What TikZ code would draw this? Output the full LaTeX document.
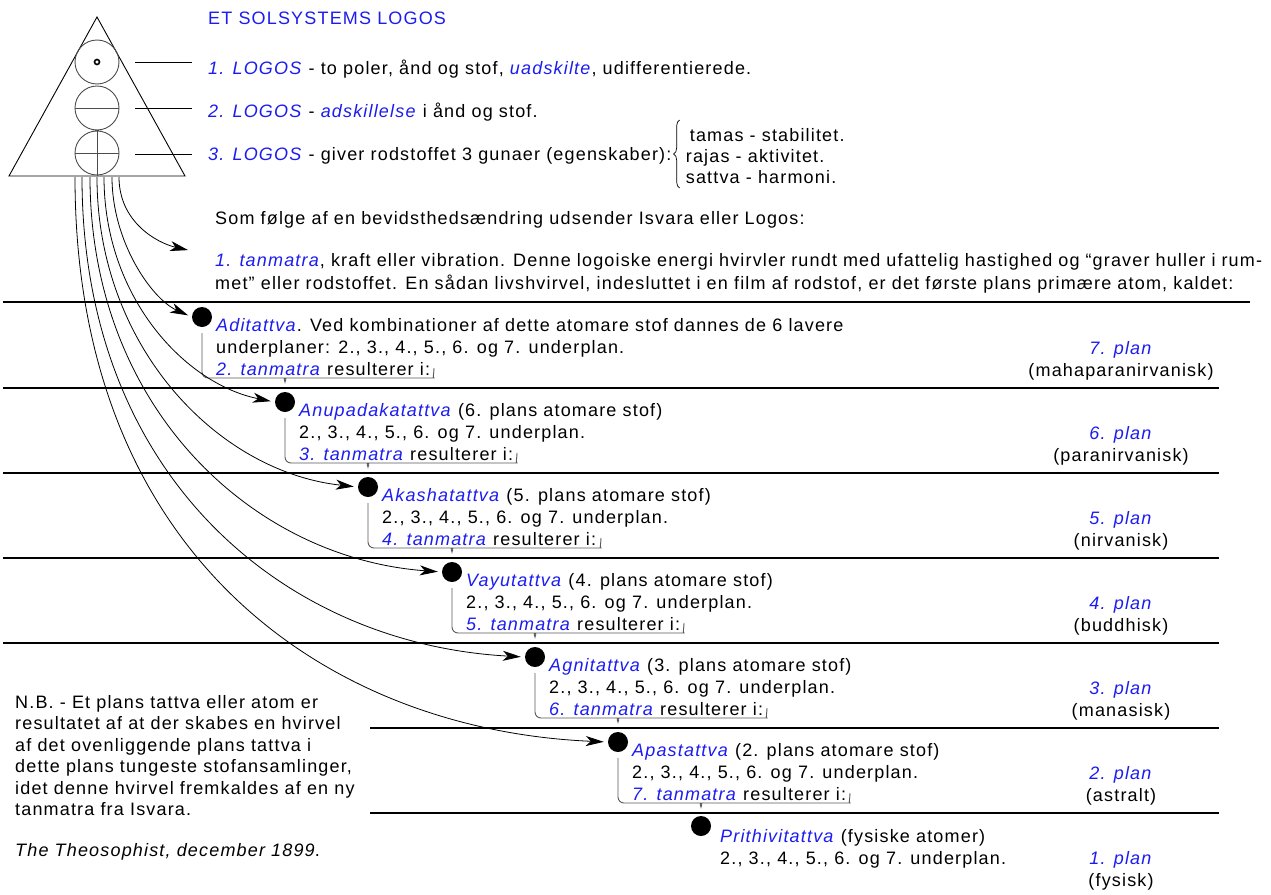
\documentclass[tikz,border=0pt]{standalone}
\usepackage{fontspec}
\setmainfont{Liberation Sans}[LetterSpace=6.5]
\usepackage{xcolor}
\usepackage{tikz}
\usetikzlibrary{arrows.meta,decorations.pathreplacing}

\definecolor{logosblue}{RGB}{28,28,240}
\newcommand{\bl}[1]{\textcolor{logosblue}{\textit{#1}}}

\begin{document}
\begin{tikzpicture}[
  x=1pt, y=-1pt,
  txt/.style={anchor=base west, inner sep=0pt, align=left, font=\fontsize{18}{22}\selectfont},
  plan/.style={anchor=base, inner sep=0pt, font=\fontsize{18}{22}\selectfont},
  atom/.style={circle, fill=black, minimum size=20pt, inner sep=0pt},
  plane/.style={line width=2.4pt},
  ray/.style={-{Stealth[length=18pt,width=10pt,inset=5pt]}, line width=0.8pt, shorten >=4pt},
  brk/.style={gray!70!black, line width=0.9pt, rounded corners=6pt},
  lead/.style={line width=0.9pt},
  gbrace/.style={decorate, decoration={brace, amplitude=6pt}, line width=0.7pt}
]
\useasboundingbox (0,0) rectangle (1271,894);

% triangle with the three logoi
\draw[line width=0.9pt] (97,17) -- (9,176) -- (185,176) -- cycle;
\draw[gray!60!black, line width=0.9pt] (97,62) circle[radius=22pt] (97,108) circle[radius=22pt] (97,153) circle[radius=22pt];
\draw[line width=1.6pt] (97,62) circle[radius=2.5pt];
\draw[gray!60!black, line width=0.9pt] (75,108) -- (119,108);
\draw[gray!60!black, line width=0.9pt] (75,153) -- (119,153) (97,131) -- (97,176);
\draw[lead] (135,62) -- (192,62);
\draw[lead] (135,108) -- (192,108);
\draw[lead] (135,154) -- (192,154);

\node[txt, text=logosblue] (title) at (208,24) {ET SOLSYSTEMS LOGOS};
\node[txt] (logos1) at (208,74) {\bl{1. LOGOS} - to poler, ånd og stof, \bl{uadskilte}, udifferentierede.};
\node[txt] (logos2) at (208,117) {\bl{2. LOGOS} - \bl{adskillelse} i ånd og stof.};
\node[txt] (logos3) at (208,160) {\bl{3. LOGOS} - giver rodstoffet 3 gunaer (egenskaber):};
\draw[gbrace] ([xshift=8pt,yshift=-28pt]logos3.base east) -- ([xshift=8pt,yshift=40pt]logos3.base east);
\node[txt, font=\fontsize{18}{21}\selectfont] (gunas) at ([xshift=14pt,yshift=-23pt]logos3.base east) {\hspace{4pt}tamas - stabilitet.\\rajas - aktivitet.\\sattva - harmoni.};

\node[txt] (intro) at (215,224) {Som følge af en bevidsthedsændring udsender Isvara eller Logos:};
\node[txt] (tm1) at (215,266) {\makebox[1047pt][s]{\bl{1. tanmatra}, kraft eller vibration. Denne logoiske energi hvirvler rundt med ufattelig hastighed og “graver huller i rum-}};
\node[txt] (tm2) at (215,289) {met” eller rodstoffet. En sådan livshvirvel, indesluttet i en film af rodstof, er det første plans primære atom, kaldet:};

% planes
\draw[plane] (3,302) -- (1250,302);
\draw[plane] (3,388) -- (1219,388);
\draw[plane] (3,473) -- (1219,473);
\draw[plane] (3,558) -- (1219,558);
\draw[plane] (3,643) -- (1219,643);
\draw[plane] (370,728) -- (1219,728);
\draw[plane] (370,813) -- (1219,813);

% atoms
\node[atom] (d1) at (202,317) {};
\node[atom] (d2) at (285,402) {};
\node[atom] (d3) at (368,487) {};
\node[atom] (d4) at (452,572) {};
\node[atom] (d5) at (535,657) {};
\node[atom] (d6) at (618,742) {};
\node[atom] (d7) at (701,826) {};

\node[txt] (a1) at (216,375) {\bl{Aditattva}. Ved kombinationer af dette atomare stof dannes de 6 lavere\\underplaner: 2., 3., 4., 5., 6. og 7. underplan.\\\bl{2. tanmatra} resulterer i:};
\node[txt] (a2) at (299,460) {\bl{Anupadakatattva} (6. plans atomare stof)\\2., 3., 4., 5., 6. og 7. underplan.\\\bl{3. tanmatra} resulterer i:};
\node[txt] (a3) at (382,545) {\bl{Akashatattva} (5. plans atomare stof)\\2., 3., 4., 5., 6. og 7. underplan.\\\bl{4. tanmatra} resulterer i:};
\node[txt] (a4) at (466,630) {\bl{Vayutattva} (4. plans atomare stof)\\2., 3., 4., 5., 6. og 7. underplan.\\\bl{5. tanmatra} resulterer i:};
\node[txt] (a5) at (549,715) {\bl{Agnitattva} (3. plans atomare stof)\\2., 3., 4., 5., 6. og 7. underplan.\\\bl{6. tanmatra} resulterer i:};
\node[txt] (a6) at (632,800) {\bl{Apastattva} (2. plans atomare stof)\\2., 3., 4., 5., 6. og 7. underplan.\\\bl{7. tanmatra} resulterer i:};
\node[txt] (a7) at (720,864) {\bl{Prithivitattva} (fysiske atomer)\\2., 3., 4., 5., 6. og 7. underplan.};

% brackets from one atom to the next
\draw[brk] ([yshift=-16pt]d1.center) -- ++(0,45) -- ++(77,0) to[out=0,in=90] ++(6,9) to[out=90,in=180] ++(6,-9) -- ++(137,0) to[out=0,in=-90] ++(6,-10);
\draw[brk] ([yshift=-16pt]d2.center) -- ++(0,45) -- ++(77,0) to[out=0,in=90] ++(6,9) to[out=90,in=180] ++(6,-9) -- ++(137,0) to[out=0,in=-90] ++(6,-10);
\draw[brk] ([yshift=-16pt]d3.center) -- ++(0,45) -- ++(78,0) to[out=0,in=90] ++(6,9) to[out=90,in=180] ++(6,-9) -- ++(137,0) to[out=0,in=-90] ++(6,-10);
\draw[brk] ([yshift=-16pt]d4.center) -- ++(0,45) -- ++(77,0) to[out=0,in=90] ++(6,9) to[out=90,in=180] ++(6,-9) -- ++(137,0) to[out=0,in=-90] ++(6,-10);
\draw[brk] ([yshift=-16pt]d5.center) -- ++(0,45) -- ++(77,0) to[out=0,in=90] ++(6,9) to[out=90,in=180] ++(6,-9) -- ++(137,0) to[out=0,in=-90] ++(6,-10);
\draw[brk] ([yshift=-16pt]d6.center) -- ++(0,45) -- ++(77,0) to[out=0,in=90] ++(6,9) to[out=90,in=180] ++(6,-9) -- ++(137,0) to[out=0,in=-90] ++(6,-10);

% tanmatras out of the logos
\coordinate (s0) at (119,177);
\coordinate (s1) at (112,177);
\coordinate (s2) at (104,177);
\coordinate (s3) at (97,177);
\coordinate (s4) at (90,177);
\coordinate (s5) at (82,177);
\coordinate (s6) at (75,177);
\coordinate (t0) at (192,251);
\draw[ray] (s0) .. controls +(0,45) and +(-35,-8) .. (t0);
\draw[ray] (s1) .. controls +(0,65) and +(-40,-18) .. (d1.west);
\draw[ray] (s2) .. controls +(0,120) and +(-90,-18) .. (d2.west);
\draw[ray] (s3) .. controls +(0,170) and +(-140,-15) .. (d3.west);
\draw[ray] (s4) .. controls +(0,230) and +(-190,-14) .. (d4.west);
\draw[ray] (s5) .. controls +(0,300) and +(-240,-13) .. (d5.west);
\draw[ray] (s6) .. controls +(0,380) and +(-280,-12) .. (d6.west);

% planes, right
\node[plan] (p7) at (1121,354) {\bl{7. plan}};
\node[plan] (p7n) at (1121,376) {(mahaparanirvanisk)};
\node[plan] (p6) at (1121,439) {\bl{6. plan}};
\node[plan] (p6n) at (1121,461) {(paranirvanisk)};
\node[plan] (p5) at (1121,524) {\bl{5. plan}};
\node[plan] (p5n) at (1121,546) {(nirvanisk)};
\node[plan] (p4) at (1121,609) {\bl{4. plan}};
\node[plan] (p4n) at (1121,631) {(buddhisk)};
\node[plan] (p3) at (1121,694) {\bl{3. plan}};
\node[plan] (p3n) at (1121,716) {(manasisk)};
\node[plan] (p2) at (1121,779) {\bl{2. plan}};
\node[plan] (p2n) at (1121,801) {(astralt)};
\node[plan] (p1) at (1121,864) {\bl{1. plan}};
\node[plan] (p1n) at (1121,886) {(fysisk)};

\node[txt, font=\fontsize{18}{21.5}\selectfont] (nb) at (15,815.5) {N.B. - Et plans tattva eller atom er\\resultatet af at der skabes en hvirvel\\af det ovenliggende plans tattva i\\dette plans tungeste stofansamlinger,\\idet denne hvirvel fremkaldes af en ny\\tanmatra fra Isvara.};
\node[txt] (src) at (15,856) {\textit{The Theosophist, december 1899}.};
\end{tikzpicture}
\end{document}
